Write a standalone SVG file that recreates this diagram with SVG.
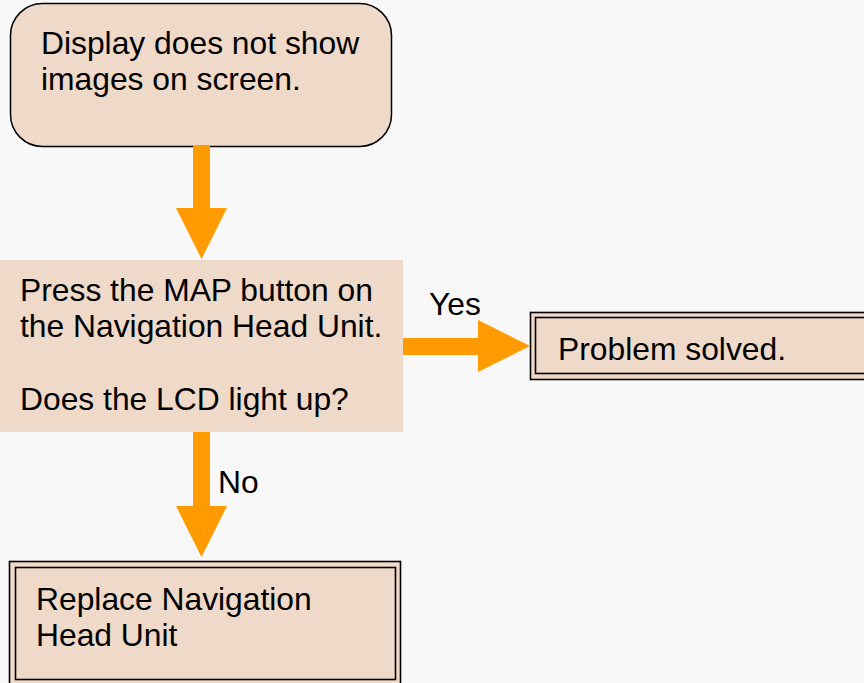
<svg xmlns="http://www.w3.org/2000/svg" width="864" height="683" viewBox="0 0 864 683">
<style>
.bg{fill:#f8f8f8}
.box{fill:#efd9c8}
.st{fill:none;stroke:#000;stroke-width:1.6}
.t{font-family:"Liberation Sans",Arial,sans-serif;font-size:31.8px;fill:#000}
.arr{fill:#ff9a00}
</style>
<rect class="bg" x="0" y="0" width="864" height="683"/>
<g id="start">
<rect class="box" x="10.5" y="3.5" width="381" height="143" rx="32" ry="32" stroke="#000" stroke-width="1.5"/>
<text class="t" x="41" y="54">Display does not show</text>
<text class="t" x="41" y="90">images on screen.</text>
</g>
<g id="decision">
<rect class="box" x="0" y="260" width="403" height="172"/>
<text class="t" x="20" y="301">Press the MAP button on</text>
<text class="t" x="20" y="337">the Navigation Head Unit.</text>
<text class="t" x="20" y="410">Does the LCD light up?</text>
</g>
<g id="solved">
<rect class="box" x="530.5" y="312.5" width="340" height="67"/>
<rect class="st" x="530.5" y="312.5" width="340" height="67"/>
<rect class="st" x="535.5" y="317.5" width="340" height="56"/>
<text class="t" x="558" y="360">Problem solved.</text>
</g>
<g id="replace">
<rect class="box" x="9.5" y="561.5" width="391" height="130"/>
<rect class="st" x="9.5" y="561.5" width="391" height="130"/>
<rect class="st" x="15.5" y="567.5" width="380" height="112"/>
<text class="t" x="36" y="610">Replace Navigation</text>
<text class="t" x="36" y="646">Head Unit</text>
</g>
<g id="connectors">
<polygon class="arr" points="193,146 210,146 210,208 227,208 201.5,259 176,208 193,208"/>
<polygon class="arr" points="403,338 478,338 478,320 530,346 478,372 478,355 403,355"/>
<text class="t" x="429" y="315">Yes</text>
<polygon class="arr" points="193,432 210,432 210,506 227,506 201.5,557 176,506 193,506"/>
<text class="t" x="218" y="493">No</text>
</g>
</svg>
